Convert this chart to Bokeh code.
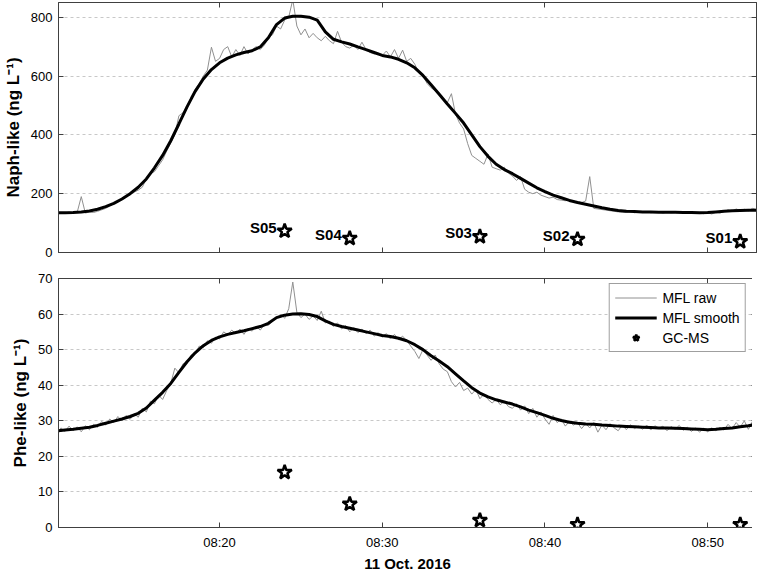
import numpy as np
from bokeh.plotting import figure
from bokeh.models import Range1d, FixedTicker, LinearAxis, Legend, LegendItem
from bokeh.layouts import column
from bokeh.embed import file_html
from bokeh.resources import INLINE
from bokeh.core.properties import value

# time axis: minutes after 08:00 on 11 Oct. 2016
tick_minutes = [20, 30, 40, 50]
tick_labels = ["08:20", "08:30", "08:40", "08:50"]

# raw MFL signal, sampled every 15 s from 08:10:00 to 08:53:00
raw_start = 10.0
raw_step = 0.25
naph_raw = [
    133, 136, 134, 138, 135, 137, 190, 134, 138, 136, 140, 145,
    150, 158, 166, 172, 180, 192, 196, 205, 212, 222, 250, 268,
    275, 295, 315, 345, 372, 400, 465, 475, 490, 530, 555, 575,
    600, 620, 698, 650, 660, 690, 700, 665, 690, 670, 700, 675,
    690, 700, 690, 705, 730, 740, 770, 760, 790, 800, 860, 770,
    740, 760, 730, 745, 730, 720, 735, 720, 710, 752, 715, 700,
    695, 705, 690, 715, 690, 680, 675, 678, 670, 685, 665, 690,
    660, 688, 650, 660, 640, 610, 600, 575, 560, 550, 540, 520,
    510, 540, 470, 440, 420, 370, 330, 320, 310, 300, 335, 290,
    285, 280, 290, 270, 260, 245, 258, 215, 205, 200, 205, 195,
    190, 185, 188, 180, 178, 176, 180, 174, 172, 170, 175, 258,
    150, 148, 146, 144, 142, 140, 138, 137, 136, 141, 135, 138,
    136, 139, 135, 137, 138, 134, 137, 135, 136, 139, 134, 137,
    133, 136, 134, 132, 135, 131, 137, 134, 139, 145, 140, 148,
    143, 147, 141, 150, 146,
]
phe_raw = [
    26.5, 28.0, 27.0, 28.5, 27.2, 28.3, 26.9, 28.6, 27.5, 29.0, 28.2, 29.8,
    28.8, 30.5, 29.5, 31.2, 30.0, 31.5, 30.4, 32.0, 31.0, 33.5, 32.5, 35.5,
    34.8, 37.2, 36.0, 38.5, 40.5, 44.8, 43.5, 46.0, 46.5, 48.5, 49.0, 51.0,
    50.5, 52.5, 51.8, 53.5, 53.0, 55.0, 54.2, 55.5, 54.5, 55.8, 54.3, 56.0,
    55.2, 56.5, 55.5, 57.0, 56.8, 58.0, 58.8, 60.0, 58.8, 61.5, 69.0, 60.5,
    59.0, 60.0, 58.5, 59.5, 58.2, 60.8, 57.5, 58.0, 56.5, 57.5, 55.8, 56.8,
    55.0, 56.2, 54.8, 55.8, 54.5, 55.5, 53.8, 54.8, 53.5, 54.5, 53.0, 54.3,
    52.8, 53.8, 52.5, 51.0, 49.5, 47.5, 50.0, 48.5, 47.0, 48.5, 46.0, 44.5,
    43.8, 41.0, 39.5, 40.8, 38.5, 39.2, 37.5, 38.8, 36.2, 37.5, 36.0, 35.0,
    36.0, 34.5, 35.5, 34.0, 33.5, 34.8, 33.0, 34.2, 32.0, 33.5, 31.0, 32.5,
    30.5, 29.0, 31.5, 29.5, 30.5, 28.5, 29.8, 28.8, 29.5, 27.8, 29.2, 28.0,
    29.5, 26.8, 28.8, 27.5, 29.2, 28.0, 27.2, 28.8, 27.5, 28.9, 27.8, 28.5,
    27.6, 28.8, 27.4, 28.6, 27.9, 28.5, 27.2, 28.4, 27.6, 28.7, 27.3, 28.2,
    27.0, 28.0, 26.8, 27.9, 26.9, 28.0, 27.2, 28.1, 27.4, 29.0, 27.8, 29.5,
    28.2, 30.0, 27.6, 29.8, 28.5,
]
raw_t = [raw_start + raw_step * i for i in range(len(naph_raw))]

# smoothed MFL signal, every 30 s from 08:10:30 (first point at 08:10:06)
smooth_t = [10.1] + [10.5 + 0.5 * i for i in range(86)]
naph_smooth = [
    135,
    135, 136, 138, 141, 147, 156, 167, 182, 200, 222,   # 10.5 - 15.0
    250, 288, 330, 380, 437, 495, 548, 590, 622, 645,   # 15.5 - 20.0
    661, 672, 680, 686, 699, 730, 775, 797, 803, 803,   # 20.5 - 25.0
    800, 790, 750, 725, 716, 709, 699, 690, 680, 670,   # 25.5 - 30.0
    665, 657, 645, 628, 602, 570, 538, 505, 473, 440,   # 30.5 - 35.0
    400, 360, 327, 300, 282, 268, 252, 236, 220, 207,   # 35.5 - 40.0
    195, 186, 177, 170, 164, 158, 152, 147, 143, 140,   # 40.5 - 45.0
    139, 138, 138, 137, 137, 137, 136, 136, 135, 136,   # 45.5 - 50.0
    138, 140, 142, 143, 144, 144,                       # 50.5 - 53.0
]
phe_smooth = [
    27.2,
    27.4, 27.6, 27.9, 28.2, 28.7, 29.3, 29.9, 30.5, 31.2, 32.1,   # 10.5 - 15.0
    33.6, 35.8, 38.0, 40.5, 43.6, 46.6, 49.1, 51.1, 52.6, 53.6,   # 15.5 - 20.0
    54.3, 54.8, 55.3, 55.9, 56.5, 57.4, 59.0, 59.7, 60.0, 60.1,   # 20.5 - 25.0
    59.9, 59.3, 58.1, 57.1, 56.5, 56.0, 55.5, 55.0, 54.5, 54.0,   # 25.5 - 30.0
    53.7, 53.2, 52.5, 51.4, 50.0, 48.3, 46.8, 45.2, 43.2, 41.2,   # 30.5 - 35.0
    39.3, 37.8, 36.7, 35.9, 35.3, 34.7, 33.9, 33.0, 32.3, 31.5,   # 35.5 - 40.0
    30.7, 30.1, 29.6, 29.3, 29.1, 29.0, 28.8, 28.7, 28.5, 28.4,   # 40.5 - 45.0
    28.3, 28.2, 28.1, 28.0, 28.0, 27.9, 27.8, 27.7, 27.6, 27.5,   # 45.5 - 50.0
    27.6, 27.8, 28.0, 28.3, 28.6, 29.0,                           # 50.5 - 53.0
]

# GC-MS samples
gc_t = [24.0, 28.0, 36.0, 42.0, 52.0]
gc_names = ["S05", "S04", "S03", "S02", "S01"]
gc_naph = [73, 48, 54, 45, 37]
gc_phe = [15.5, 6.6, 2.0, 0.8, 0.8]

naph_ticks = [0, 200, 400, 600, 800]
phe_ticks = [0, 10, 20, 30, 40, 50, 60, 70]

FONT = "Liberation Sans"
AX = "#404040"


def style_axis(ax, ticks, labels=True, overrides=None):
    ax.ticker = FixedTicker(ticks=ticks)
    ax.major_tick_in = 5
    ax.major_tick_out = 0
    ax.minor_tick_line_color = None
    ax.major_tick_line_color = AX
    ax.axis_line_color = AX
    ax.major_label_text_font = FONT
    if overrides:
        ax.major_label_overrides = overrides
    if labels:
        ax.major_label_text_color = "black"
        ax.major_label_text_font_size = "13px"
        ax.major_label_standoff = 6
    else:
        ax.major_label_text_color = None
        ax.major_label_text_font_size = "1px"
        ax.major_label_standoff = 0


def make_panel(ylabel, ymax, yticks, raw, smooth, gc, frame_h, top_b, bot_b, show_x):
    p = figure(frame_width=698, frame_height=frame_h,
               x_range=Range1d(10.1, 53.0), y_range=Range1d(0, ymax),
               output_backend="svg", toolbar_location=None,
               min_border_left=52, min_border_right=2,
               min_border_top=top_b, min_border_bottom=bot_b)
    p.background_fill_color = "white"
    p.border_fill_color = "white"
    p.outline_line_color = AX
    p.outline_line_alpha = 1.0
    p.xgrid.visible = False
    p.ygrid.ticker = FixedTicker(ticks=yticks)
    p.ygrid.grid_line_color = "#c8c8c8"
    p.ygrid.grid_line_dash = "3 3"

    overrides = {m: l for m, l in zip(tick_minutes, tick_labels)}
    xa = p.xaxis[0]
    style_axis(xa, tick_minutes, labels=show_x, overrides=overrides)
    if show_x:
        xa.axis_label = "11 Oct. 2016"
        xa.axis_label_text_font = FONT
        xa.axis_label_text_font_style = "bold"
        xa.axis_label_text_font_size = "15px"
        xa.axis_label_text_color = "black"
        xa.axis_label_standoff = 2
        xa.major_label_standoff = 7
    top = LinearAxis()
    style_axis(top, tick_minutes, labels=False)
    p.add_layout(top, "above")

    ya = p.yaxis[0]
    style_axis(ya, yticks)
    ya.axis_label = ylabel
    ya.axis_label_text_font = FONT
    ya.axis_label_text_font_style = "bold"
    ya.axis_label_text_font_size = "17px"
    ya.axis_label_text_color = "black"
    ya.axis_label_standoff = 5
    right = LinearAxis()
    style_axis(right, yticks, labels=False)
    p.add_layout(right, "right")

    r_raw = p.line(raw_t, raw, line_color="#909090", line_width=1)
    r_sm = p.line(smooth_t, smooth, line_color="black", line_width=3)
    r_gc = p.scatter(gc_t, gc, marker="star", size=15, fill_color="white",
                     line_color="black", line_width=2.5)
    return p, r_raw, r_sm, r_gc


p1, a1, b1, c1 = make_panel("Naph-like (ng L\u207b\u00b9)", 850, naph_ticks,
                            naph_raw, naph_smooth, gc_naph, 250, 2, 13, False)
p1.text(x=gc_t, y=gc_naph, text=gc_names, text_align="right",
        text_baseline="alphabetic", x_offset=-8, y_offset=-4,
        text_font=value(FONT), text_font_style="bold", text_font_size="15px",
        text_color="black")

p2, a2, b2, c2 = make_panel("Phe-like (ng L\u207b\u00b9)", 70, phe_ticks,
                            phe_raw, phe_smooth, gc_phe, 249, 13, 5, True)
legend = Legend(items=[LegendItem(label="MFL raw", renderers=[a2]),
                       LegendItem(label="MFL smooth", renderers=[b2]),
                       LegendItem(label="GC-MS", renderers=[c2])],
                location="top_right")
legend.margin = 5
legend.padding = 5
legend.spacing = 3
legend.glyph_width = 42
legend.glyph_height = 17
legend.label_standoff = 6
legend.label_text_font = FONT
legend.label_text_font_size = "14px"
legend.label_text_color = "black"
legend.border_line_color = AX
legend.border_line_width = 1
legend.background_fill_alpha = 1.0
p2.add_layout(legend, "center")

layout = column(p1, p2, spacing=0)
open("out.html", "w").write(file_html(layout, INLINE))
